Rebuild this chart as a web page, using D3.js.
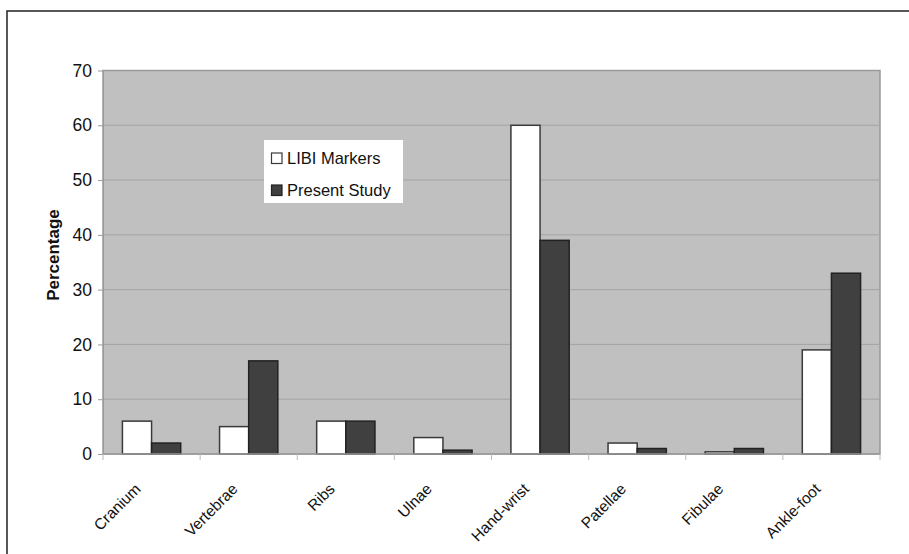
<!DOCTYPE html>
<html>
<head>
<meta charset="utf-8">
<script src="https://cdn.jsdelivr.net/npm/d3@7"></script>
<style>
  html, body { margin: 0; padding: 0; background: #fff; }
  svg { display: block; font-family: "Liberation Sans", Arial, sans-serif; }
</style>
</head>
<body>
<svg id="chart" width="909" height="554"></svg>
<script>
const categories = ["Cranium", "Vertebrae", "Ribs", "Ulnae", "Hand-wrist", "Patellae", "Fibulae", "Ankle-foot"];
const seriesNames = ["LIBI Markers", "Present Study"];
const libiMarkers = [6, 5, 6, 3, 60, 2, 0.4, 19];
const presentStudy = [2, 17, 6, 0.7, 39, 1, 1, 33];
const yTicks = [0, 10, 20, 30, 40, 50, 60, 70];

const seriesValues = [libiMarkers, presentStudy];
const fills = ["#ffffff", "#404040"];
const strokes = ["#3a3a3a", "#222222"];

const svg = d3.select("#chart");
const plot = { left: 103, top: 70.5, right: 880, bottom: 454 };

// outer frame (extends beyond the picture on right/bottom)
svg.append("rect").attr("x", 7).attr("y", 11).attr("width", 1000).attr("height", 1000)
  .attr("fill", "none").attr("stroke", "#222").attr("stroke-width", 1.5);

const y = d3.scaleLinear().domain([0, 70]).range([plot.bottom, plot.top]);
const x0 = d3.scaleBand().domain(categories).range([plot.left, plot.right])
  .paddingInner(0.4).paddingOuter(0.2);
const x1 = d3.scaleBand().domain(seriesNames).range([0, x0.bandwidth()]).padding(0);

// plot background
svg.append("rect").attr("x", plot.left).attr("y", plot.top)
  .attr("width", plot.right - plot.left).attr("height", plot.bottom - plot.top)
  .attr("fill", "#c0c0c0").attr("stroke", "#9a9a9a").attr("stroke-width", 1.5);

// gridlines
svg.append("g").selectAll("line").data(yTicks.filter(t => t > 0 && t < 70)).join("line")
  .attr("x1", plot.left).attr("x2", plot.right)
  .attr("y1", d => y(d)).attr("y2", d => y(d))
  .attr("stroke", "#a4a4a4").attr("stroke-width", 1);

// y axis
const yAxis = d3.axisLeft(y).tickValues(yTicks).tickSize(5).tickSizeOuter(0).tickPadding(6);
const gy = svg.append("g").attr("transform", `translate(${plot.left},0)`).call(yAxis);
gy.select(".domain").attr("stroke", "#9a9a9a");
gy.selectAll(".tick line").attr("stroke", "#9a9a9a");
gy.selectAll(".tick text").attr("font-size", 17.5).attr("fill", "#111")
  .attr("font-family", "Liberation Sans, Arial, sans-serif");

// bars
const groups = svg.append("g").selectAll("g").data(categories).join("g")
  .attr("transform", d => `translate(${x0(d)},0)`);
groups.selectAll("rect")
  .data((c, i) => seriesNames.map((s, j) => ({ s, j, v: seriesValues[j][i] })))
  .join("rect")
  .attr("x", d => x1(d.s))
  .attr("width", x1.bandwidth())
  .attr("y", d => y(d.v))
  .attr("height", d => y(0) - y(d.v))
  .attr("fill", d => fills[d.j])
  .attr("stroke", d => strokes[d.j])
  .attr("stroke-width", 1.5);

// x axis line and ticks at category boundaries
svg.append("line").attr("x1", plot.left).attr("x2", plot.right)
  .attr("y1", plot.bottom).attr("y2", plot.bottom)
  .attr("stroke", "#9a9a9a").attr("stroke-width", 1.5);
const bounds = d3.range(categories.length + 1).map(i => plot.left + i * x0.step());
svg.append("g").selectAll("line").data(bounds).join("line")
  .attr("x1", d => d).attr("x2", d => d)
  .attr("y1", plot.bottom).attr("y2", plot.bottom + 6)
  .attr("stroke", "#bbbbbb").attr("stroke-width", 1);

// x labels
svg.append("g").selectAll("text").data(categories).join("text")
  .attr("transform", d => `translate(${x0(d) + x0.bandwidth() / 2 - 10},${plot.bottom + 36}) rotate(-45)`)
  .attr("text-anchor", "end")
  .attr("font-size", 15.5)
  .attr("fill", "#111")
  .text(d => d);

// y axis title
svg.append("text")
  .attr("transform", `translate(59,255) rotate(-90)`)
  .attr("text-anchor", "middle")
  .attr("font-size", 17)
  .attr("font-weight", "bold")
  .attr("fill", "#111")
  .text("Percentage");

// legend
const lg = svg.append("g");
lg.append("rect").attr("x", 264).attr("y", 140).attr("width", 139).attr("height", 63)
  .attr("fill", "#ffffff");
seriesNames.forEach((s, j) => {
  const cy = 158 + j * 32;
  lg.append("rect").attr("x", 271.5).attr("y", cy - 5).attr("width", 10.5).attr("height", 10.5)
    .attr("fill", fills[j]).attr("stroke", strokes[j]).attr("stroke-width", 1.2);
  lg.append("text").attr("x", 287).attr("y", cy + 6)
    .attr("font-size", 16.5).attr("fill", "#111").text(s);
});
</script>
</body>
</html>
